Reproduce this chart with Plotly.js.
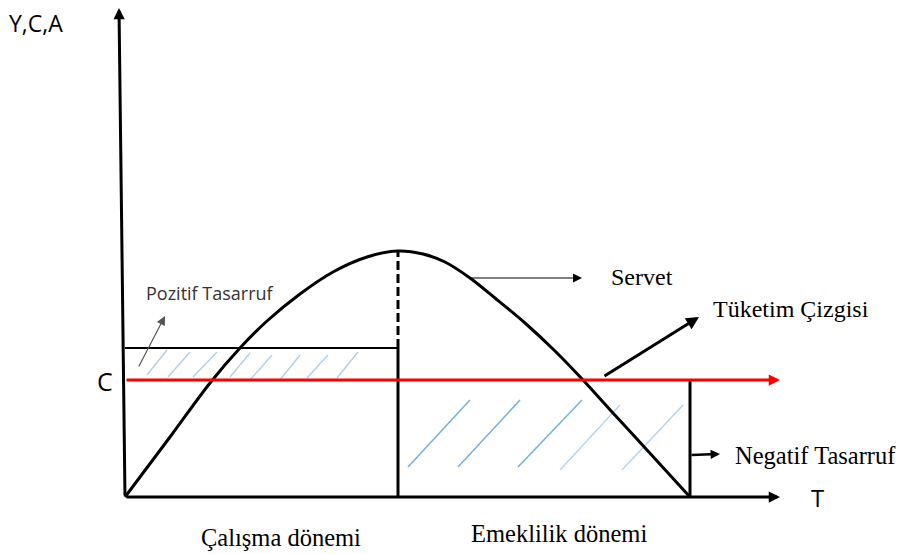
<!DOCTYPE html>
<html><head><meta charset="utf-8">
<script src="https://cdn.plot.ly/plotly-3.0.1.min.js"></script>
<style>html,body{margin:0;padding:0;background:#fff}#chart{width:903px;height:554px}</style>
</head><body><div id="chart"></div>
<script>
// Servet (wealth) curve over the life cycle
const wealthT = [0, 45, 85, 115, 142, 175, 208, 242, 273, 298, 320, 345, 370, 400, 430, 458, 488, 522, 565];
const wealthA = [0, 60, 114, 149, 176, 203, 225, 240, 246, 243, 235, 219, 199, 174, 146, 117, 84, 47, 0];
// levels and periods
const incomeY = 149;    // income during working period
const consC = 117;      // consumption level C
const retireT = 273;    // retirement point
const endT = 565;       // end of life
const tAxisEnd = 655;
const yAxisTop = 489;
// hatch marks: positive saving band and negative saving area
const hatchTopT0 = [22, 43, 68, 105, 125, 155, 182, 212];
const hatchTopT1 = [42, 65, 92, 125, 147, 175, 203, 233];
const hatchTopV0 = [122, 120, 120, 120, 117, 117, 119, 119];
const hatchTopV1 = [147, 145, 145, 144, 142, 142, 142, 145];
const hatchBotT0 = [283, 333, 393, 435, 497];
const hatchBotT1 = [345, 395, 457, 495, 558];
const hatchBotV0 = [30, 30, 30, 27, 27];
const hatchBotV1 = [97, 97, 97, 92, 92];

function seg(x0, x1, y0, y1, idx) {
  const xs = [], ys = [];
  idx.forEach(i => { xs.push(x0[i], x1[i], null); ys.push(y0[i], y1[i], null); });
  return {xs, ys};
}
const topAll = seg(hatchTopT0, hatchTopT1, hatchTopV0, hatchTopV1, hatchTopT0.map((_, i) => i));
const botA = seg(hatchBotT0, hatchBotT1, hatchBotV0, hatchBotV1, [0, 1, 2]);
const botB = seg(hatchBotT0, hatchBotT1, hatchBotV0, hatchBotV1, [3, 4]);
const peakA = wealthA[wealthT.indexOf(retireT)];

const traces = [
  {x: topAll.xs, y: topAll.ys, mode: 'lines', line: {color: 'rgba(91,155,213,0.5)', width: 1.3}, hoverinfo: 'skip'},
  {x: botA.xs, y: botA.ys, mode: 'lines', line: {color: 'rgba(91,155,213,0.8)', width: 1.6}, hoverinfo: 'skip'},
  {x: botB.xs, y: botB.ys, mode: 'lines', line: {color: 'rgba(91,155,213,0.45)', width: 1.4}, hoverinfo: 'skip'},
  // income band top
  {x: [0, retireT], y: [incomeY, incomeY], mode: 'lines', line: {color: '#000', width: 2}},
  // retirement vertical
  {x: [retireT, retireT], y: [0, incomeY], mode: 'lines', line: {color: '#000', width: 3}},
  {x: [retireT, retireT], y: [incomeY, peakA], mode: 'lines', line: {color: '#000', width: 3, dash: '9px,4px'}},
  // end vertical
  {x: [endT, endT], y: [0, consC], mode: 'lines', line: {color: '#000', width: 3}},
  // wealth curve
  {x: wealthT, y: wealthA, mode: 'lines', line: {color: '#000', width: 3, shape: 'spline', smoothing: 0.9}}
];

function arrow(ax, ay, x, y, color, width, size) {
  return {x: x, y: y, ax: ax, ay: ay, xref: 'x', yref: 'y', axref: 'x', ayref: 'y', text: '',
    showarrow: true, arrowhead: 2, arrowsize: size, arrowwidth: width, arrowcolor: color, standoff: 0, startstandoff: 0};
}
function label(x, y, text, size, family, color) {
  return {x: x, y: y, xref: 'x', yref: 'y', text: text, showarrow: false, xanchor: 'center', yanchor: 'middle',
    font: {size: size, family: family, color: color || '#000'}};
}
const serif = 'Liberation Serif, Times New Roman, serif';
const sans = 'Open Sans, Lato, sans-serif';

const annotations = [
  arrow(0, 0, -6, yAxisTop, '#000', 3, 0.75),
  arrow(0, 0, tAxisEnd, 0, '#000', 3, 0.75),
  arrow(0, consC, tAxisEnd, consC, '#ff0000', 3, 0.75),
  arrow(345, 219, 457, 219, '#000', 1.2, 1.5),
  arrow(478, 120, 574, 180, '#000', 3, 0.85),
  arrow(565, 42, 595, 43, '#000', 2.5, 0.75),
  arrow(13, 129, 40, 181, '#555', 1.2, 1.5),
  label(-89, 474, 'Y,C,A', 23, sans),
  label(-20, 116, 'C', 25, sans),
  label(692, 0, 'T', 24, sans),
  label(85, 204, 'Pozitif Tasarruf', 18, sans, '#333'),
  label(517, 220, 'Servet', 24, serif),
  label(666, 188, 'Tüketim Çizgisi', 24, serif),
  label(690, 42, 'Negatif Tasarruf', 24.5, serif),
  label(156, -40, 'Çalışma dönemi', 24.5, serif),
  label(434, -36, 'Emeklilik dönemi', 24.5, serif)
];

const layout = {
  width: 903, height: 554,
  margin: {l: 0, r: 0, t: 0, b: 0},
  paper_bgcolor: '#fff', plot_bgcolor: '#fff',
  showlegend: false,
  xaxis: {range: [-125, 778], visible: false, fixedrange: true},
  yaxis: {range: [-57, 497], visible: false, fixedrange: true},
  annotations: annotations
};
Plotly.newPlot('chart', traces, layout, {staticPlot: true});
</script>
</body></html>
